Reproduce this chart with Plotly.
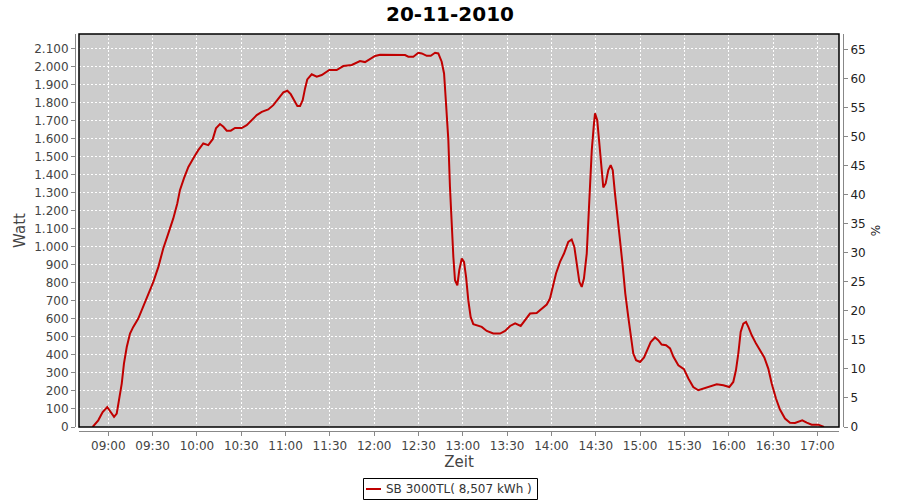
import plotly.graph_objects as go

# ---- data ----
day = "2010-11-20"
times = [
    "08:49:24", "08:53:12", "08:56:12", "08:59:18", "09:01:36", "09:03:54", "09:05:42", "09:07:24",
    "09:09:06", "09:10:36", "09:12:30", "09:14:42", "09:16:54", "09:20:18", "09:23:42", "09:27:06",
    "09:30:30", "09:33:54", "09:37:12", "09:40:36", "09:44:00", "09:46:42", "09:48:30", "09:51:12",
    "09:54:12", "09:57:30", "10:00:54", "10:04:18", "10:07:42", "10:10:42", "10:12:54", "10:15:36",
    "10:17:54", "10:20:12", "10:22:54", "10:25:48", "10:30:18", "10:33:42", "10:37:06", "10:40:30",
    "10:43:54", "10:48:18", "10:51:42", "10:55:06", "10:58:30", "11:01:12", "11:03:30", "11:05:42",
    "11:08:00", "11:09:48", "11:11:36", "11:13:12", "11:14:42", "11:17:42", "11:21:06", "11:24:30",
    "11:29:36", "11:34:36", "11:39:06", "11:44:48", "11:50:24", "11:53:48", "11:57:12", "12:00:36",
    "12:04:00", "12:17:30", "12:20:54", "12:23:06", "12:26:30", "12:29:54", "12:32:12", "12:35:36",
    "12:38:18", "12:41:12", "12:43:24", "12:45:42", "12:47:18", "12:48:36", "12:50:12", "12:51:18",
    "12:52:30", "12:53:36", "12:54:42", "12:56:18", "12:57:36", "12:59:18", "13:00:48", "13:02:12",
    "13:03:42", "13:05:18", "13:07:06", "13:10:30", "13:12:48", "13:16:12", "13:20:36", "13:25:12",
    "13:28:36", "13:32:00", "13:35:24", "13:39:12", "13:42:06", "13:45:30", "13:50:00", "13:53:24",
    "13:56:48", "13:59:00", "14:00:54", "14:03:06", "14:05:48", "14:08:30", "14:11:24", "14:13:42",
    "14:15:30", "14:17:06", "14:18:54", "14:20:30", "14:22:00", "14:23:54", "14:25:36", "14:27:18",
    "14:28:48", "14:29:30", "14:31:00", "14:32:24", "14:33:48", "14:35:06", "14:36:42", "14:38:30",
    "14:40:06", "14:41:30", "14:43:00", "14:44:36", "14:46:24", "14:48:18", "14:50:00", "14:52:00",
    "14:53:54", "14:55:24", "14:57:18", "15:00:00", "15:02:42", "15:04:54", "15:07:12", "15:10:06",
    "15:12:18", "15:14:36", "15:17:36", "15:20:18", "15:22:30", "15:25:54", "15:29:42", "15:32:42",
    "15:36:00", "15:39:24", "15:42:48", "15:47:18", "15:51:54", "15:56:24", "16:00:24", "16:03:06",
    "16:04:54", "16:06:30", "16:08:06", "16:09:54", "16:11:42", "16:13:18", "16:15:36", "16:18:30",
    "16:21:12", "16:24:06", "16:26:48", "16:29:06", "16:32:00", "16:34:42", "16:38:06", "16:41:30",
    "16:44:54", "16:47:06", "16:49:48", "16:52:48", "16:56:12", "17:00:42", "17:03:36", "17:04:30",
]
watt = [
    0, 37, 83, 111, 83, 56, 74, 148,
    241, 352, 444, 519, 556, 602, 667, 741,
    806, 889, 991, 1074, 1158, 1241, 1315, 1380,
    1444, 1491, 1537, 1574, 1565, 1598, 1658, 1682,
    1667, 1645, 1645, 1660, 1660, 1676, 1704, 1732,
    1750, 1763, 1787, 1824, 1858, 1867, 1848, 1815,
    1782, 1782, 1815, 1880, 1930, 1958, 1945, 1954,
    1982, 1982, 2004, 2010, 2032, 2026, 2041, 2060,
    2067, 2067, 2065, 2056, 2056, 2078, 2074, 2061,
    2061, 2078, 2074, 2028, 1963, 1800, 1593, 1333,
    1074, 944, 815, 787, 871, 936, 917, 833,
    704, 611, 571, 561, 556, 533, 519, 519,
    533, 561, 576, 561, 593, 630, 633, 657,
    680, 713, 778, 852, 917, 963, 1028, 1041,
    1000, 908, 806, 778, 824, 963, 1260, 1537,
    1686, 1741, 1704, 1574, 1417, 1330, 1352, 1426,
    1454, 1426, 1297, 1186, 1037, 889, 741, 611,
    482, 408, 371, 361, 386, 426, 472, 497,
    482, 458, 454, 436, 391, 343, 321, 269,
    222, 204, 213, 226, 237, 232, 222, 250,
    315, 408, 528, 574, 583, 556, 509, 463,
    426, 386, 324, 241, 158, 97, 47, 24,
    22, 28, 37, 24, 13, 13, 4, 0,
]
series_name = "SB 3000TL( 8,507 kWh )"
chart_title = "20-11-2010"
x_title = "Zeit"
y_title = "Watt"
y2_title = "%"
x_range = ["2010-11-20 08:40:10", "2010-11-20 17:14:40"]
y_range = [0, 2182]
y2_range = [0, 67.67]

x = [f"{day} {t}" for t in times]

FONT = "DejaVu Sans"
LINE_COLOR = "#c00000"
fig = go.Figure()
fig.add_trace(go.Scatter(
    x=x, y=watt, mode="lines", name=series_name,
    line=dict(color=LINE_COLOR, width=2),
    xaxis="x", yaxis="y", showlegend=False,
))
# invisible trace to activate the right axis
fig.add_trace(go.Scatter(
    x=[x[0]], y=[0], mode="markers", marker=dict(opacity=0),
    showlegend=False, hoverinfo="skip", xaxis="x", yaxis="y2",
))

W, H = 900, 500
ml, mr, mt, mb = 75, 57, 34, 69
pw = W - ml - mr
ph = H - mt - mb
gap = 4


def px(v):
    return (v - ml) / pw


def py(v):
    return (H - mb - v) / ph


fig.update_layout(
    width=W, height=H,
    margin=dict(l=ml, r=mr, t=mt, b=mb, autoexpand=False),
    paper_bgcolor="white",
    plot_bgcolor="#cccccc",
    separators=",.",
    font=dict(family=FONT, size=12, color="#444444"),
    title=dict(text=f"<b>{chart_title}</b>", x=0.5, xref="container", xanchor="center",
               y=1 - 14 / H, yref="container", yanchor="middle",
               font=dict(family=FONT, size=20, color="black")),
    xaxis=dict(
        type="date", range=x_range, domain=[gap / pw, 1 - gap / pw],
        anchor="free", position=0,
        tickformat="%H:%M", dtick=1800000, tick0="2010-11-20 09:00",
        showgrid=True, gridcolor="white", griddash="2px,2px", gridwidth=1,
        showline=True, linecolor="#888888", linewidth=1,
        ticks="outside", ticklen=4, tickcolor="#888888",
        tickfont=dict(family=FONT, size=12, color="#444444"),
        title=dict(text=x_title, font=dict(family=FONT, size=15, color="#444444"), standoff=4),
        zeroline=False,
    ),
    yaxis=dict(
        range=y_range, domain=[gap / ph, 1],
        anchor="free", position=0,
        dtick=100, tick0=0, tickformat=",d",
        showgrid=True, gridcolor="white", griddash="2px,2px", gridwidth=1,
        showline=True, linecolor="#888888", linewidth=1,
        ticks="outside", ticklen=4, tickcolor="#888888",
        tickfont=dict(family=FONT, size=12, color="#444444"),
        title=dict(text=y_title, font=dict(family=FONT, size=15, color="#444444"), standoff=3),
        zeroline=False,
    ),
    yaxis2=dict(
        range=y2_range, overlaying="y", side="right",
        anchor="free", position=1,
        dtick=5, tick0=0,
        showgrid=False,
        showline=True, linecolor="#888888", linewidth=1,
        ticks="outside", ticklen=4, tickcolor="#888888",
        tickfont=dict(family=FONT, size=12, color="#222222"),
        title=dict(text=y2_title, font=dict(family=FONT, size=12, color="#222222"), standoff=6),
        zeroline=False,
    ),
    showlegend=False,
)

# plot-area border
fig.add_shape(type="rect", xref="x domain", yref="y domain",
              x0=0, x1=1, y0=0, y1=1, line=dict(color="black", width=1.5),
              fillcolor="rgba(0,0,0,0)", layer="above")

# legend box (hand-drawn to match the reference's compact legend)
fig.add_shape(type="rect", xref="paper", yref="paper",
              x0=px(363.5), x1=px(537.5), y0=py(499.5), y1=py(478.5),
              line=dict(color="black", width=1), fillcolor="white")
fig.add_shape(type="line", xref="paper", yref="paper",
              x0=px(366), x1=px(381), y0=py(489), y1=py(489),
              line=dict(color=LINE_COLOR, width=2))
fig.add_annotation(text=series_name, xref="paper", yref="paper",
                   x=px(384), y=py(489), xanchor="left", yanchor="middle",
                   showarrow=False, font=dict(family=FONT, size=12, color="#333333"))

fig.write_html("out.html", config={"displayModeBar": False},
               post_script="document.body.style.margin='0';document.body.style.overflow='hidden';")
